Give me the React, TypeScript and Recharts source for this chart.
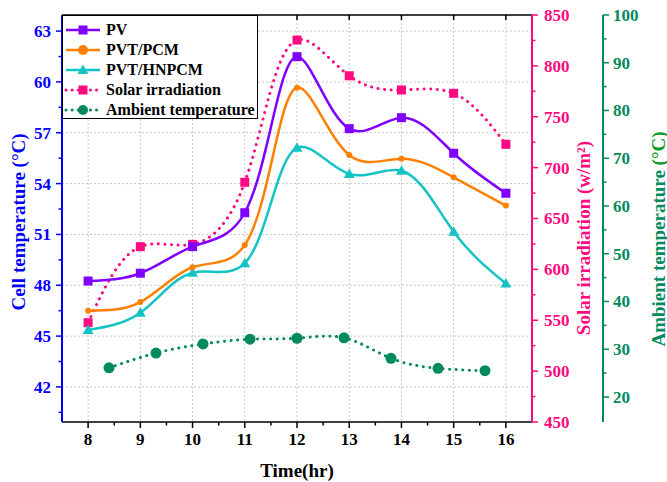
import React from 'react';
import { LineChart, Line, XAxis, YAxis, CartesianGrid } from 'recharts';

// readings per hour
const hours = [8, 9, 10, 11, 12, 13, 14, 15, 16];
const pv = [48.25, 48.71, 50.28, 52.28, 61.49, 57.24, 57.89, 55.79, 53.43];
const pvtPcm = [46.5, 47.01, 49.06, 50.38, 59.66, 55.69, 55.47, 54.37, 52.7];
const pvtHnpcm = [45.36, 46.38, 48.74, 49.3, 56.12, 54.57, 54.76, 51.16, 48.1];
const solar = [547.6, 622.3, 624.6, 685.6, 825.4, 790.3, 776.3, 773, 722.9];

// ambient temperature was logged at slightly different times
const ambientHours = [8.4, 9.3, 10.2, 11.1, 12.0, 12.9, 13.8, 14.7, 15.6];
const ambient = [26.1, 29.2, 31.1, 32.1, 32.3, 32.4, 28.1, 26.0, 25.5];

const xTicks = [8, 9, 10, 11, 12, 13, 14, 15, 16];
const xMinor = [8.5, 9.5, 10.5, 11.5, 12.5, 13.5, 14.5, 15.5];
const cellTicks = [42, 45, 48, 51, 54, 57, 60, 63];
const cellMinor = [40.5, 43.5, 46.5, 49.5, 52.5, 55.5, 58.5, 61.5];
const solarTicks = [450, 500, 550, 600, 650, 700, 750, 800, 850];
const solarMinor = [475, 525, 575, 625, 675, 725, 775, 825];
const ambTicks = [20, 30, 40, 50, 60, 70, 80, 90, 100];
const ambMinor = [25, 35, 45, 55, 65, 75, 85, 95];

const mainData = hours.map((t, i) => ({
  t,
  pv: pv[i],
  pcm: pvtPcm[i],
  hn: pvtHnpcm[i],
  solar: solar[i],
}));
const ambientData = ambientHours.map((t, i) => ({ t, amb: ambient[i] }));

const FONT = '"Liberation Serif", "Times New Roman", serif';
const C_PV = '#8000ff';
const C_PCM = '#ff8000';
const C_HN = '#14c4c4';
const C_SOLAR = '#ff0a80';
const C_AMB = '#008a5e';
const C_BLUE = '#0000ff';

const merge = (a: number[], b: number[]) => [...a, ...b].sort((p, q) => p - q);

// natural cubic spline through the screen points (centripetal parametrisation)
function naturalSecond(t: number[], v: number[]) {
  const n = v.length;
  const M = new Array(n).fill(0);
  if (n < 3) return M;
  const a: number[] = [], b: number[] = [], c: number[] = [], d: number[] = [];
  for (let i = 1; i < n - 1; i++) {
    const h0 = t[i] - t[i - 1];
    const h1 = t[i + 1] - t[i];
    a.push(h0);
    b.push(2 * (h0 + h1));
    c.push(h1);
    d.push(6 * ((v[i + 1] - v[i]) / h1 - (v[i] - v[i - 1]) / h0));
  }
  const m = b.length;
  for (let i = 1; i < m; i++) {
    const w = a[i] / b[i - 1];
    b[i] -= w * c[i - 1];
    d[i] -= w * d[i - 1];
  }
  const sol = new Array(m).fill(0);
  sol[m - 1] = d[m - 1] / b[m - 1];
  for (let i = m - 2; i >= 0; i--) sol[i] = (d[i] - c[i] * sol[i + 1]) / b[i];
  for (let i = 0; i < m; i++) M[i + 1] = sol[i];
  return M;
}

function paramSpline(context: any) {
  let xs: number[] = [];
  let ys: number[] = [];
  return {
    areaStart() {},
    areaEnd() {},
    lineStart() {
      xs = [];
      ys = [];
    },
    point(x: number, y: number) {
      xs.push(+x);
      ys.push(+y);
    },
    lineEnd() {
      const n = xs.length;
      if (!n) return;
      context.moveTo(xs[0], ys[0]);
      if (n === 1) return;
      const t = [0];
      for (let i = 1; i < n; i++) {
        const len = Math.sqrt(Math.hypot(xs[i] - xs[i - 1], ys[i] - ys[i - 1])) || 1e-6;
        t.push(t[i - 1] + len);
      }
      const Mx = naturalSecond(t, xs);
      const My = naturalSecond(t, ys);
      for (let i = 0; i < n - 1; i++) {
        const h = t[i + 1] - t[i];
        const dx0 = (xs[i + 1] - xs[i]) / h - (h * (2 * Mx[i] + Mx[i + 1])) / 6;
        const dx1 = (xs[i + 1] - xs[i]) / h + (h * (Mx[i] + 2 * Mx[i + 1])) / 6;
        const dy0 = (ys[i + 1] - ys[i]) / h - (h * (2 * My[i] + My[i + 1])) / 6;
        const dy1 = (ys[i + 1] - ys[i]) / h + (h * (My[i] + 2 * My[i + 1])) / 6;
        context.bezierCurveTo(
          xs[i] + (dx0 * h) / 3,
          ys[i] + (dy0 * h) / 3,
          xs[i + 1] - (dx1 * h) / 3,
          ys[i + 1] - (dy1 * h) / 3,
          xs[i + 1],
          ys[i + 1]
        );
      }
    },
  };
}

function makeTick(side: string, majors: number[], color: string, gap = 10) {
  return (props: any) => {
    const { x, y, payload } = props;
    const v = payload.value;
    const major = majors.includes(v);
    const len = major ? 6 : 3.5;
    const txt = { fill: color, fontFamily: FONT, fontWeight: 700, fontSize: 17 };
    if (side === 'left') {
      return (
        <g>
          <line x1={x} y1={y} x2={x - len} y2={y} stroke={color} strokeWidth={1.5} />
          {major && <text x={x - gap} y={y} dy="0.35em" textAnchor="end" {...txt}>{v}</text>}
        </g>
      );
    }
    if (side === 'right') {
      return (
        <g>
          <line x1={x} y1={y} x2={x + len} y2={y} stroke={color} strokeWidth={1.5} />
          {major && <text x={x + gap} y={y} dy="0.35em" textAnchor="start" {...txt}>{v}</text>}
        </g>
      );
    }
    if (side === 'top') {
      return <line x1={x} y1={y} x2={x} y2={y + len - 1} stroke="#000" strokeWidth={1.5} />;
    }
    return (
      <g>
        <line x1={x} y1={y} x2={x} y2={y + len} stroke="#000" strokeWidth={1.5} />
        {major && <text x={x} y={y + 17} dy="0.35em" textAnchor="middle" {...txt}>{v}</text>}
      </g>
    );
  };
}

const AxisTitle = (props: any) => {
  const { viewBox, dx = 0, dy = 0, vertical = true, children } = props;
  const cx = viewBox.x + dx;
  const cy = vertical ? viewBox.y + viewBox.height / 2 + dy : viewBox.y + dy;
  const tx = vertical ? cx : viewBox.x + viewBox.width / 2;
  return (
    <text
      x={tx}
      y={cy}
      textAnchor="middle"
      dominantBaseline="central"
      transform={vertical ? `rotate(-90 ${tx} ${cy})` : undefined}
      fontFamily={FONT}
      fontWeight={700}
      fontSize={19}
    >
      {children}
    </text>
  );
};

const Square = (props: any) => {
  const { cx, cy, fill } = props;
  if (cx == null || cy == null) return null;
  return <rect x={cx - 4.5} y={cy - 4.5} width={9} height={9} fill={fill} />;
};
const Circle = (props: any) => {
  const { cx, cy, fill, r = 5 } = props;
  if (cx == null || cy == null) return null;
  return <circle cx={cx} cy={cy} r={r} fill={fill} />;
};
const Triangle = (props: any) => {
  const { cx, cy, fill } = props;
  if (cx == null || cy == null) return null;
  return <polygon points={`${cx},${cy - 5.5} ${cx + 5.5},${cy + 4} ${cx - 5.5},${cy + 4}`} fill={fill} />;
};

const legendItems = [
  { name: 'PV', color: C_PV, dotted: false, Marker: Square },
  { name: 'PVT/PCM', color: C_PCM, dotted: false, Marker: Circle },
  { name: 'PVT/HNPCM', color: C_HN, dotted: false, Marker: Triangle },
  { name: 'Solar irradiation', color: C_SOLAR, dotted: true, Marker: Square },
  { name: 'Ambient temperature', color: C_AMB, dotted: true, Marker: Circle },
];

const dotted = { strokeDasharray: '0.1 6.5', strokeLinecap: 'round' as const, strokeWidth: 3 };

export default function App() {
  return (
    <div style={{ position: 'absolute', left: 0, top: 0, width: 667, height: 482, background: '#fff' }}>
      <LineChart width={667} height={482} data={mainData} margin={{ top: 0, right: 0, bottom: 0, left: 0 }}>
        <CartesianGrid
          xAxisId="bottom"
          yAxisId="cell"
          horizontalValues={cellTicks}
          verticalValues={xTicks}
          stroke="#c8c8c8"
          strokeDasharray="2 2"
        />
        <XAxis
          xAxisId="bottom"
          dataKey="t"
          type="number"
          domain={[7.5, 16.5]}
          ticks={merge(xTicks, xMinor)}
          interval={0}
          height={60}
          tickSize={0}
          tickMargin={0}
          tickLine={false}
          tick={makeTick('bottom', xTicks, '#000')}
          axisLine={{ stroke: '#000', strokeWidth: 1.5 }}
          label={<AxisTitle vertical={false} dy={48}>Time(hr)</AxisTitle>}
        />
        <XAxis
          xAxisId="top"
          orientation="top"
          dataKey="t"
          type="number"
          domain={[7.5, 16.5]}
          ticks={xTicks}
          interval={0}
          height={15}
          tickSize={0}
          tickMargin={0}
          tickLine={false}
          tick={makeTick('top', xTicks, '#000')}
          axisLine={{ stroke: '#000', strokeWidth: 1.5 }}
        />
        <YAxis
          yAxisId="cell"
          orientation="left"
          type="number"
          domain={[39.93, 63.95]}
          ticks={merge(cellTicks, cellMinor)}
          interval={0}
          width={62}
          tickSize={0}
          tickMargin={0}
          tickLine={false}
          tick={makeTick('left', cellTicks, C_BLUE, 11)}
          axisLine={{ stroke: C_BLUE, strokeWidth: 2 }}
          label={<AxisTitle dx={18} dy={3.5}><tspan fill={C_BLUE}>Cell temperature (°C)</tspan></AxisTitle>}
        />
        <YAxis
          yAxisId="a_solar"
          orientation="right"
          type="number"
          domain={[450, 850]}
          ticks={merge(solarTicks, solarMinor)}
          interval={0}
          width={71}
          tickSize={0}
          tickMargin={0}
          tickLine={false}
          tick={makeTick('right', solarTicks, C_SOLAR, 12)}
          axisLine={{ stroke: C_SOLAR, strokeWidth: 2 }}
          label={<AxisTitle dx={51} dy={19.5}><tspan fill={C_SOLAR}>Solar irradiation (w/m²)</tspan></AxisTitle>}
        />
        <YAxis
          yAxisId="b_amb"
          orientation="right"
          type="number"
          domain={[14.76, 100]}
          ticks={merge(ambTicks, ambMinor)}
          interval={0}
          width={64}
          tickSize={0}
          tickMargin={0}
          tickLine={false}
          tick={makeTick('right', ambTicks, C_AMB, 10)}
          axisLine={{ stroke: C_AMB, strokeWidth: 2 }}
          label={
            <AxisTitle dx={55} dy={20.5}>
              <tspan fill={C_AMB}>Ambient temperature </tspan>
              <tspan fill="#0a9a2a">(°C)</tspan>
            </AxisTitle>
          }
        />
        <Line
          xAxisId="bottom"
          yAxisId="a_solar"
          type={paramSpline as any}
          dataKey="solar"
          stroke={C_SOLAR}
          {...dotted}
          dot={<Square fill={C_SOLAR} />}
          isAnimationActive={false}
        />
        <Line
          xAxisId="bottom"
          yAxisId="b_amb"
          data={ambientData}
          type={paramSpline as any}
          dataKey="amb"
          stroke={C_AMB}
          {...dotted}
          dot={<Circle fill={C_AMB} r={5.5} />}
          isAnimationActive={false}
        />
        <Line
          xAxisId="bottom"
          yAxisId="cell"
          type={paramSpline as any}
          dataKey="hn"
          stroke={C_HN}
          strokeWidth={2.5}
          dot={<Triangle fill={C_HN} />}
          isAnimationActive={false}
        />
        <Line
          xAxisId="bottom"
          yAxisId="cell"
          type={paramSpline as any}
          dataKey="pcm"
          stroke={C_PCM}
          strokeWidth={2.5}
          dot={<Circle fill={C_PCM} />}
          isAnimationActive={false}
        />
        <Line
          xAxisId="bottom"
          yAxisId="cell"
          type={paramSpline as any}
          dataKey="pv"
          stroke={C_PV}
          strokeWidth={2.5}
          dot={<Square fill={C_PV} />}
          isAnimationActive={false}
        />
      </LineChart>

      <div
        style={{
          position: 'absolute',
          left: 62,
          top: 15,
          width: 196,
          height: 104,
          boxSizing: 'border-box',
          border: '1.5px solid #000',
          background: '#fff',
          paddingTop: 3.5,
          fontFamily: FONT,
          fontWeight: 700,
          fontSize: 16,
        }}
      >
        {legendItems.map(({ name, color, dotted: isDotted, Marker }) => (
          <div key={name} style={{ display: 'flex', alignItems: 'center', height: 20 }}>
            <svg width={42} height={20} style={{ flex: 'none' }}>
              <line
                x1={3}
                y1={10}
                x2={37}
                y2={10}
                stroke={color}
                strokeWidth={isDotted ? 3 : 2.5}
                strokeDasharray={isDotted ? '0.1 6' : undefined}
                strokeLinecap={isDotted ? 'round' : 'butt'}
              />
              <Marker cx={20} cy={10} fill={color} />
            </svg>
            <span style={{ marginLeft: 1, whiteSpace: 'nowrap' }}>{name}</span>
          </div>
        ))}
      </div>
    </div>
  );
}
